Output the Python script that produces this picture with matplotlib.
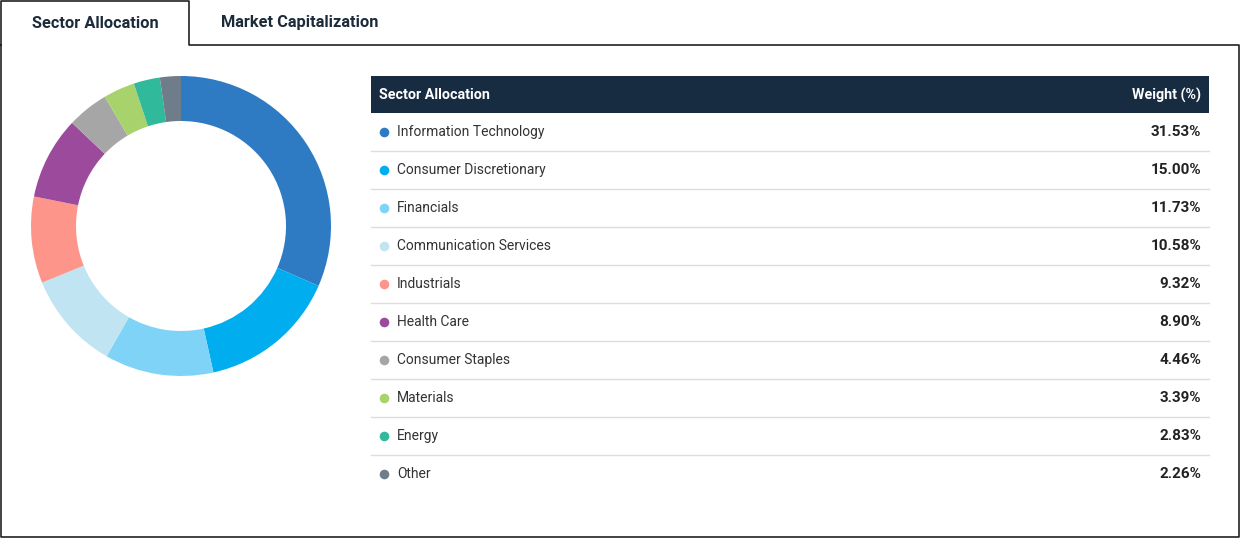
import numpy as np
import matplotlib.pyplot as plt
from matplotlib.patches import Rectangle

plt.rcParams['font.family'] = ['Roboto', 'DejaVu Sans']

# chart data
sectors = ['Information Technology', 'Consumer Discretionary', 'Financials',
           'Communication Services', 'Industrials', 'Health Care',
           'Consumer Staples', 'Materials', 'Energy', 'Other']
weights = [31.53, 15.00, 11.73, 10.58, 9.32, 8.90, 4.46, 3.39, 2.83, 2.26]
colors = ['#2e7bc4', '#00adef', '#7fd3f7', '#c0e4f1', '#fd958a',
          '#9c4a9c', '#a6a6a6', '#a8d26b', '#30b99a', '#6f7d8a']
tab_labels = ['Sector Allocation', 'Market Capitalization']
header_labels = ['Sector Allocation', 'Weight (%)']

W, H = 1240, 538
fig = plt.figure(figsize=(W / 100, H / 100), dpi=100)
fig.patch.set_facecolor('white')

# background axes in pixel coordinates (y down)
ax = fig.add_axes([0, 0, 1, 1])
ax.set_xlim(0, W)
ax.set_ylim(H, 0)
ax.axis('off')

navy = '#1c2b3a'
# panel outline with open tab
ax.plot([0.6, 0.6, 189, 189, W - 1, W - 1, 0.6, 0.6],
        [45, 0.5, 0.5, 45, 45, H - 1, H - 1, 45], color='#222222', lw=1.2)
ax.text(95, 23, tab_labels[0], ha='center', va='center', fontsize=11.8,
        fontweight='bold', color=navy)
ax.text(300, 23, tab_labels[1], ha='center', va='center', fontsize=11.8,
        fontweight='bold', color=navy)

# table
tx0, tx1 = 371, 1209
ax.add_patch(Rectangle((tx0, 76), tx1 - tx0, 37, color='#172c41', lw=0))
ax.text(379, 95, header_labels[0], ha='left', va='center', fontsize=10.3,
        fontweight='bold', color='white')
ax.text(1201, 95, header_labels[1], ha='right', va='center', fontsize=10.3,
        fontweight='bold', color='white')

row_h = 38
for i, (name, w, c) in enumerate(zip(sectors, weights, colors)):
    yc = 132 + i * row_h
    ax.scatter([384], [yc], s=48, color=c, zorder=3, linewidths=0)
    ax.text(397, yc, name, ha='left', va='center', fontsize=10, color='#333333')
    ax.text(1201, yc, f'{w:.2f}%', ha='right', va='center', fontsize=11,
            fontweight='bold', color='#222222')
    if i < len(sectors) - 1:
        ax.plot([tx0, tx1], [yc + 18.5, yc + 18.5], color='#dddddd', lw=1)

# donut
cx, cy, r = 181, 226, 150
pax = fig.add_axes([(cx - r) / W, (H - cy - r) / H, 2 * r / W, 2 * r / H])
pax.pie(weights, colors=colors, startangle=90, counterclock=False,
        radius=1, wedgeprops=dict(width=0.3, linewidth=0))
pax.set_xlim(-1, 1)
pax.set_ylim(-1, 1)
pax.axis('off')

fig.savefig('out.png', dpi=100)
